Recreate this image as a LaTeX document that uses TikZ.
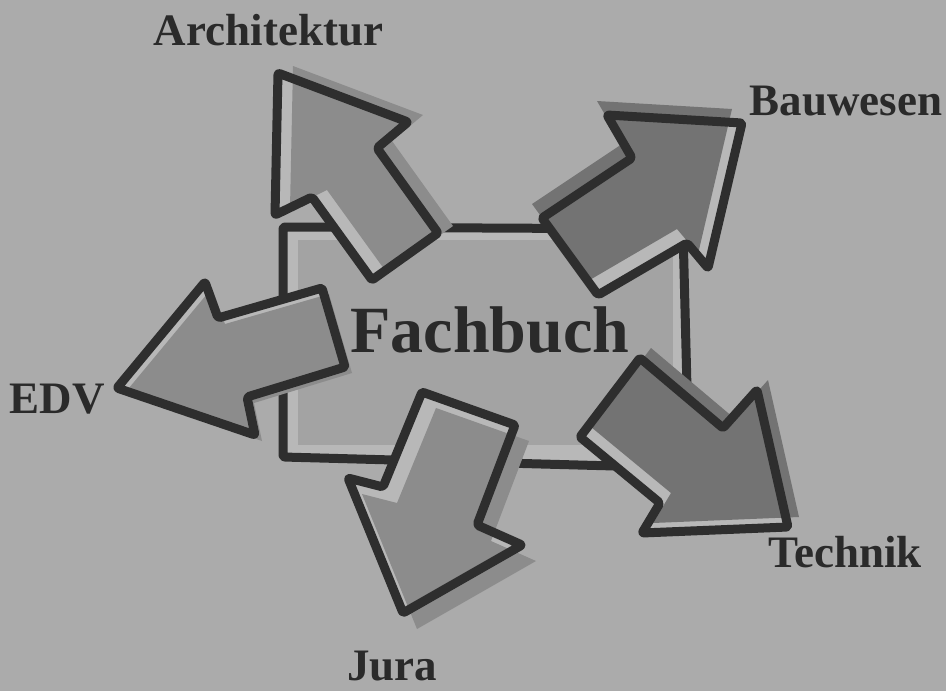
\documentclass[tikz,border=0pt]{standalone}
\usepackage{fontspec}
\setmainfont{Liberation Serif}
\definecolor{bgc}{HTML}{ABABAB}
\definecolor{lightc}{HTML}{B8B8B8}
\definecolor{rectc}{HTML}{A3A3A3}
\definecolor{midc}{HTML}{8C8C8C}
\definecolor{darkc}{HTML}{737373}
\definecolor{linec}{HTML}{2E2E2E}
\definecolor{textc}{HTML}{2A2A2A}
\tikzset{
  outl/.style={draw=linec,line width=9pt,line join=round,rounded corners=2pt},
  lbl/.style={text=textc,font=\fontsize{45}{50}\selectfont\bfseries,anchor=base,inner sep=0pt},
  bigl/.style={text=textc,font=\fontsize{66}{70}\selectfont\bfseries,anchor=base,inner sep=0pt}
}
\newcommand{\arrowA}{(278,73) -- (408,122) -- (377,148) -- (438,233) -- (372,280) -- (312,197) -- (275,215) -- cycle}
\newcommand{\arrowB}{(742,123) -- (708,268) -- (687,243) -- (598,295) -- (542,218) -- (632,158) -- (607,115) -- cycle}
\newcommand{\arrowE}{(117,388) -- (205,282) -- (218,318) -- (322,288) -- (345,367) -- (247,397) -- (255,435) -- cycle}
\newcommand{\arrowT}{(640,358) -- (723,428) -- (757,390) -- (788,527) -- (642,533) -- (660,503) -- (580,437) -- cycle}
\newcommand{\arrowJ}{(422,392) -- (515,425) -- (477,525) -- (522,545) -- (403,613) -- (348,478) -- (383,487) -- cycle}
\newcommand{\drawarrow}[4]{%
  \fill[lightc] #1;
  \begin{scope}[shift={(#2,#3)}]\fill[#4] #1;\end{scope}
  \draw[outl] #1;}
\begin{document}
\begin{tikzpicture}[x=1pt,y=-1pt]
\useasboundingbox (0,0) rectangle (946,691);
\fill[bgc] (0,0) rectangle (946,691);
% central box
\fill[lightc] (283,227) -- (683,229) -- (689,468) -- (283,457) -- cycle;
\fill[rectc] (298,240) rectangle (673,445);
\draw[outl] (283,227) -- (683,229) -- (689,468) -- (283,457) -- cycle;
% arrows
\drawarrow{\arrowA}{15}{-7}{midc}
\drawarrow{\arrowB}{-10}{-14}{darkc}
\drawarrow{\arrowE}{7}{6}{midc}
\drawarrow{\arrowT}{11}{-10}{darkc}
\drawarrow{\arrowJ}{14}{16}{midc}
% labels
\node[bigl] (fach) at (490,352) {Fachbuch};
\node[lbl] (arch) at (268.5,45) {Architektur};
\node[lbl] (bau) at (846,115) {Bauwesen};
\node[lbl] (edv) at (57,413) {EDV};
\node[lbl] (tech) at (845,567) {Technik};
\node[lbl] (jura) at (392,680) {Jura};
\end{tikzpicture}
\end{document}
